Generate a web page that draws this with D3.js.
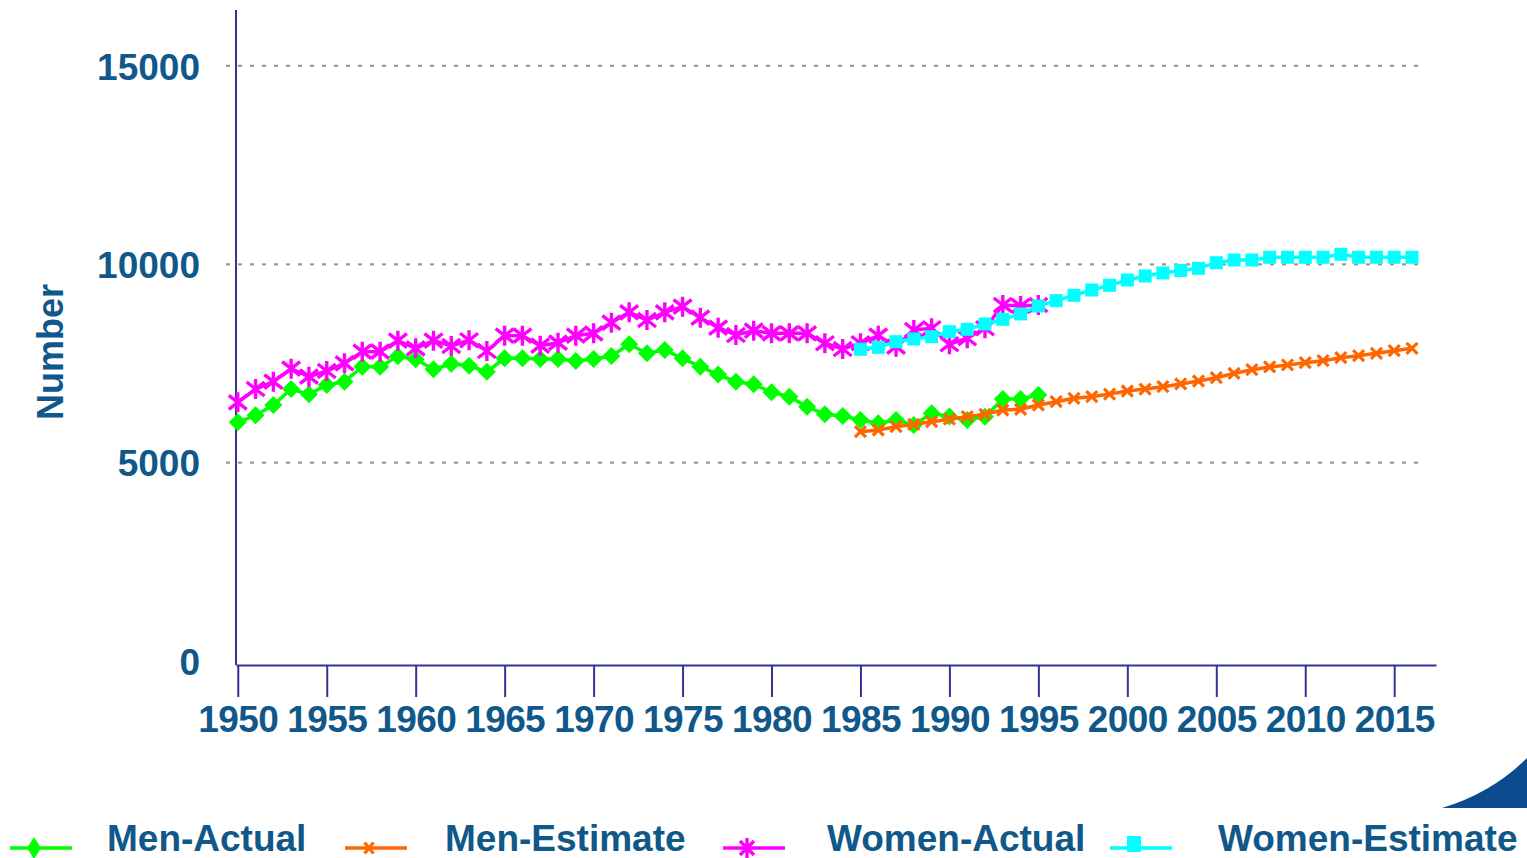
<!DOCTYPE html>
<html>
<head>
<meta charset="utf-8">
<script src="https://cdn.jsdelivr.net/npm/d3@7"></script>
<style>
  html, body { margin: 0; padding: 0; background: #ffffff; }
  svg { display: block; }
  text { font-family: "Liberation Sans", Arial, sans-serif; font-weight: bold; fill: #10588a; }
</style>
</head>
<body>
<svg id="chart" width="1527" height="858"></svg>
<script>
// ---------------- data ----------------
const yearsActual = d3.range(1950, 1996);   // 1950..1995
const yearsEstimate = d3.range(1985, 2017); // 1985..2016

const menActual = [
  6017, 6194, 6453, 6856, 6722, 6958, 7041, 7419, 7419, 7681,
  7605, 7353, 7494, 7442, 7293, 7630, 7630, 7613, 7613, 7563,
  7613, 7688, 7983, 7757, 7840, 7630, 7419, 7221, 7041, 6975,
  6774, 6663, 6411, 6219, 6176, 6075, 5992, 6075, 5949, 6244,
  6166, 6075, 6159, 6605, 6605, 6705
];
const womenActual = [
  6521, 6856, 7041, 7369, 7167, 7310, 7504, 7797, 7797, 8074,
  7882, 8074, 7941, 8085, 7815, 8200, 8200, 7948, 8024, 8200,
  8260, 8528, 8790, 8596, 8790, 8932, 8654, 8402, 8218, 8327,
  8260, 8260, 8260, 8009, 7865, 8009, 8200, 7923, 8344, 8387,
  7985, 8136, 8387, 8974, 8949, 8974
];
const menEstimate = [
  5780, 5823, 5906, 5967, 6032, 6095, 6159, 6219, 6327, 6345,
  6453, 6537, 6622, 6663, 6730, 6806, 6856, 6914, 6983, 7058,
  7141, 7251, 7342, 7412, 7462, 7519, 7570, 7646, 7696, 7757,
  7823, 7882
];
const womenEstimate = [
  7857, 7907, 8049, 8117, 8175, 8301, 8361, 8495, 8613, 8748,
  8949, 9083, 9218, 9352, 9470, 9604, 9705, 9781, 9844, 9899,
  10040, 10108, 10108, 10177, 10177, 10177, 10177, 10252, 10177, 10177,
  10177, 10177
];
const xTickYears = d3.range(1950, 2016, 5);
const yTickValues = [0, 5000, 10000, 15000];
const seriesNames = ["Men-Actual", "Men-Estimate", "Women-Actual", "Women-Estimate"];
const yAxisTitle = "Number";

// ---------------- chart ----------------
const svg = d3.select("#chart");
const x = d3.scaleLinear().domain([1949.9, 2017.35]).range([236, 1436]);
const y = d3.scaleLinear().domain([0, 16410]).range([661, 10]);
const axisY = 665;

const series = [
  { name: seriesNames[0], years: yearsActual, values: menActual, color: "#00ff00", marker: "diamond" },
  { name: seriesNames[1], years: yearsEstimate, values: menEstimate, color: "#ff6600", marker: "cross" },
  { name: seriesNames[2], years: yearsActual, values: womenActual, color: "#ff00ff", marker: "star" },
  { name: seriesNames[3], years: yearsEstimate, values: womenEstimate, color: "#00ffff", marker: "square" }
];

// gridlines
svg.append("g").selectAll("line").data(yTickValues.filter(v => v > 0)).join("line")
  .attr("x1", 226).attr("x2", 1420)
  .attr("y1", d => y(d)).attr("y2", d => y(d))
  .attr("stroke", "#999999").attr("stroke-width", 2.2)
  .attr("stroke-dasharray", "4,8");

// y axis
const yAxis = svg.append("g").attr("transform", "translate(236,0)")
  .call(d3.axisLeft(y).tickValues(yTickValues).tickSize(0).tickSizeOuter(0).tickPadding(36).tickFormat(d3.format("d")));
yAxis.select(".domain").remove();
yAxis.append("line").attr("x1", 0).attr("x2", 0).attr("y1", y.range()[1]).attr("y2", axisY)
  .attr("stroke", "#333399").attr("stroke-width", 2);
yAxis.selectAll("text").attr("font-size", 37).attr("font-family", "Liberation Sans, Arial, sans-serif")
  .attr("font-weight", "bold").attr("fill", "#10588a").attr("dy", "0.36em");

// x axis
const xAxis = svg.append("g").attr("transform", `translate(0,${axisY})`)
  .call(d3.axisBottom(x).tickValues(xTickYears).tickSize(32).tickSizeOuter(0).tickPadding(9).tickFormat(d3.format("d")));
xAxis.select(".domain").attr("stroke", "#333399").attr("stroke-width", 2);
xAxis.selectAll(".tick line").attr("stroke", "#333399").attr("stroke-width", 2);
xAxis.selectAll("text").attr("font-size", 37).attr("font-family", "Liberation Sans, Arial, sans-serif")
  .attr("font-weight", "bold").attr("fill", "#10588a").attr("letter-spacing", "-0.6");

// y axis title
svg.append("text")
  .attr("transform", "translate(63,352) rotate(-90)")
  .attr("text-anchor", "middle")
  .attr("font-size", 36)
  .text(yAxisTitle);

// marker drawing
function drawMarker(g, type, color, s) {
  if (type === "diamond") {
    g.append("path").attr("d", `M0,${-s.h} L${s.w},0 L0,${s.h} L${-s.w},0 Z`).attr("fill", color);
  } else if (type === "square") {
    g.append("rect").attr("x", -s.w).attr("y", -s.h).attr("width", 2 * s.w).attr("height", 2 * s.h).attr("fill", color);
  } else if (type === "cross") {
    g.append("path").attr("d", `M${-s.w},${-s.h} L${s.w},${s.h} M${-s.w},${s.h} L${s.w},${-s.h}`)
      .attr("stroke", color).attr("stroke-width", 3.2).attr("fill", "none");
  } else if (type === "star") {
    g.append("path").attr("d", `M${-s.w},${-s.h * 0.7} L${s.w},${s.h * 0.7} M${-s.w},${s.h * 0.7} L${s.w},${-s.h * 0.7} M0,${-s.h} L0,${s.h}`)
      .attr("stroke", color).attr("stroke-width", 3.4).attr("fill", "none");
  }
}
const markerSize = {
  diamond: { w: 9, h: 9 },
  cross: { w: 5.5, h: 5.5 },
  star: { w: 9, h: 10 },
  square: { w: 6.5, h: 6.5 }
};

const line = d3.line().x(d => x(d[0])).y(d => y(d[1]));
series.forEach(s => {
  const pts = s.years.map((yr, i) => [yr, s.values[i]]);
  const g = svg.append("g");
  g.append("path").datum(pts).attr("d", line)
    .attr("fill", "none").attr("stroke", s.color).attr("stroke-width", 3.5);
  g.selectAll("g.m").data(pts).join("g").attr("class", "m")
    .attr("transform", d => `translate(${x(d[0])},${y(d[1])})`)
    .each(function () { drawMarker(d3.select(this), s.marker, s.color, markerSize[s.marker]); });
});

// legend
const legendLineX = [10, 345, 723, 1110];
const legendTextX = [107, 445, 827, 1218];
const legendMarkerSize = {
  diamond: { w: 7, h: 11 },
  cross: { w: 4.5, h: 5.5 },
  star: { w: 7, h: 10 },
  square: { w: 7, h: 8 }
};
const legendMarkerDy = { diamond: 0, cross: 0, star: 0, square: -4 };
series.forEach((s, i) => {
  const g = svg.append("g");
  g.append("line").attr("x1", legendLineX[i]).attr("x2", legendLineX[i] + 62)
    .attr("y1", 848).attr("y2", 848).attr("stroke", s.color).attr("stroke-width", 3.5);
  const m = g.append("g").attr("transform", `translate(${legendLineX[i] + 24},${848 + legendMarkerDy[s.marker]})`);
  drawMarker(m, s.marker, s.color, legendMarkerSize[s.marker]);
  g.append("text").attr("x", legendTextX[i]).attr("y", 851).attr("font-size", 37).text(s.name);
});

// decorative swoosh bottom-right
svg.append("path")
  .attr("d", "M1442,808 Q1492,793 1527,758 L1527,808 Z")
  .attr("fill", "#0b4a8e");
</script>
</body>
</html>
